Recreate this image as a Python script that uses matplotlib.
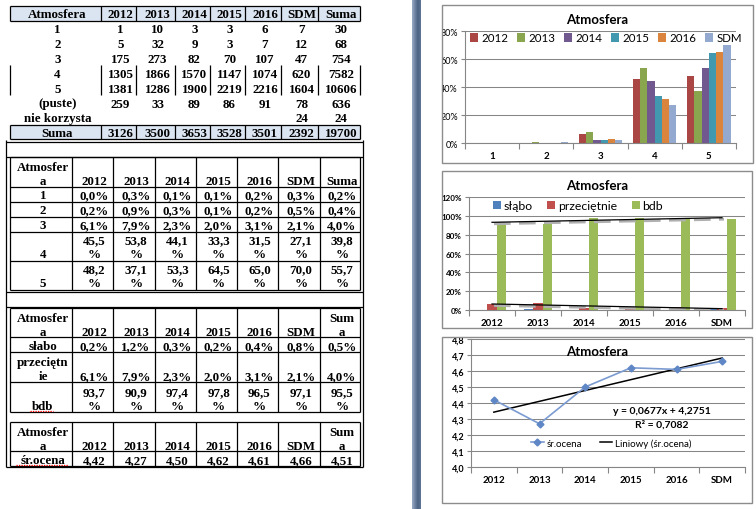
import numpy as np
import matplotlib
matplotlib.use('Agg')
import matplotlib.pyplot as plt
from matplotlib.colors import LinearSegmentedColormap
from matplotlib.patches import Rectangle
from matplotlib.transforms import offset_copy

plt.rcParams['font.family'] = ['Lato', 'DejaVu Sans']

years = ['2012', '2013', '2014', '2015', '2016', 'SDM']
cols = years + ['Suma']
grades = ['1', '2', '3', '4', '5']

# table 1 - counts (columns: 2012..2016, SDM, Suma)
cnt_1 = [1, 10, 3, 3, 6, 7, 30]
cnt_2 = [5, 32, 9, 3, 7, 12, 68]
cnt_3 = [175, 273, 82, 70, 107, 47, 754]
cnt_4 = [1305, 1866, 1570, 1147, 1074, 620, 7582]
cnt_5 = [1381, 1286, 1900, 2219, 2216, 1604, 10606]
cnt_empty = [259, 33, 89, 86, 91, 78, 636]
cnt_none = [None, None, None, None, None, 24, 24]
cnt_sum = [3126, 3500, 3653, 3528, 3501, 2392, 19700]

# table 2 - share of each grade
pct_1 = [0.0, 0.3, 0.1, 0.1, 0.2, 0.3, 0.2]
pct_2 = [0.2, 0.9, 0.3, 0.1, 0.2, 0.5, 0.4]
pct_3 = [6.1, 7.9, 2.3, 2.0, 3.1, 2.1, 4.0]
pct_4 = [45.5, 53.8, 44.1, 33.3, 31.5, 27.1, 39.8]
pct_5 = [48.2, 37.1, 53.3, 64.5, 65.0, 70.0, 55.7]

# table 3
slabo = [0.2, 1.2, 0.3, 0.2, 0.4, 0.8, 0.5]
przec = [6.1, 7.9, 2.3, 2.0, 3.1, 2.1, 4.0]
bdb = [93.7, 90.9, 97.4, 97.8, 96.5, 97.1, 95.5]

# table 4
avg = [4.42, 4.27, 4.50, 4.62, 4.61, 4.66, 4.51]
trend = [0.0677, 4.2751]
r2 = 0.7082

year_colors = ['#AA4643', '#89A54E', '#71588F', '#4198AF', '#DB843D', '#93A9CF']
group_colors = ['#4F81BD', '#C0504D', '#9BBB59']

W, H = 756, 510
fig = plt.figure(figsize=(W / 100, H / 100), dpi=100)


def rect(x0, y0, x1, y1):
    return [x0 / W, 1 - y1 / H, (x1 - x0) / W, (y1 - y0) / H]


def fxy(x, y):
    return x / W, 1 - y / H


def pfmt(v):
    return f'{v:.1f}'.replace('.', ',') + '%'


bg = fig.add_axes([0, 0, 1, 1], zorder=0)
bg.set_xlim(0, W)
bg.set_ylim(H, 0)
bg.axis('off')


def txt(x, y, s, size=9.4):
    bg.text(x, y + 4, s, ha='center', va='baseline', fontsize=size,
            fontweight='bold', family='Liberation Serif', color='black')


def hl(y, x0, x1, lw=0.9):
    bg.plot([x0, x1], [y, y], color='black', lw=lw, solid_capstyle='butt')


def vl(x, y0, y1, lw=0.9):
    bg.plot([x, x], [y0, y1], color='black', lw=lw, solid_capstyle='butt')


# ---- table 1
e1 = [10, 101, 136, 175, 210, 245, 281, 318, 360]
c1 = [(a + b) / 2 + 2 for a, b in zip(e1[:-1], e1[1:])]
bg.add_patch(Rectangle((10, 6.5), 350, 15, facecolor='#dbe5f1', edgecolor='none'))
bg.add_patch(Rectangle((10, 126), 350, 14, facecolor='#dbe5f1', edgecolor='none'))
for y in [6.5, 21.5, 126, 140]:
    hl(y, 10, 360)
for x in e1:
    vl(x, 6.5, 21.5)
    vl(x, 126, 140)
    vl(x, 65.5, 95.5)
txt(c1[0], 14, 'Atmosfera')
for c, s in zip(c1[1:], cols):
    txt(c, 14, s)
t1_labels = ['1', '2', '3', '4', '5', '(puste)', 'nie korzysta', 'Suma']
t1_data = [cnt_1, cnt_2, cnt_3, cnt_4, cnt_5, cnt_empty, cnt_none, cnt_sum]
for i, (lab, row) in enumerate(zip(t1_labels, t1_data)):
    y = 29 + i * 14.9
    txt(c1[0], y, lab)
    for c, v in zip(c1[1:], row):
        if v is not None:
            txt(c, y, str(v))

# ---- outer frame of the lower tables
for y in [143, 158, 293, 308, 468]:
    hl(y, 6, 363)
vl(6, 141, 468)
vl(363, 141, 468)

e2 = [10, 72, 113, 155, 196, 237, 278, 320, 360]
c2 = [(a + b) / 2 + 2 for a, b in zip(e2[:-1], e2[1:])]

# ---- table 2
for y in [158, 188, 203, 218, 233, 262, 291]:
    hl(y, 10, 360)
for x in e2:
    vl(x, 158, 291)
txt(c2[0], 167, 'Atmosfer')
txt(c2[0], 181, 'a')
for c, s in zip(c2[1:], cols):
    txt(c, 181, s)
for lab, row, y in zip(grades[:3], [pct_1, pct_2, pct_3], [195, 210, 225]):
    txt(c2[0], y, lab)
    for c, v in zip(c2[1:], row):
        txt(c, y, pfmt(v))
for lab, row, y in zip(grades[3:], [pct_4, pct_5], [240, 269]):
    txt(c2[0], y + 14, lab)
    for c, v in zip(c2[1:], row):
        txt(c, y, f'{v:.1f}'.replace('.', ','))
        txt(c, y + 14, '%')

# ---- table 3
for y in [309, 338, 353, 383, 413]:
    hl(y, 10, 360)
for x in e2:
    vl(x, 309, 413)
txt(c2[0], 318, 'Atmosfer')
txt(c2[0], 332, 'a')
for c, s in zip(c2[1:-1], years):
    txt(c, 332, s)
txt(c2[-1], 318, 'Sum')
txt(c2[-1], 332, 'a')
txt(c2[0], 346, 'słabo')
for c, v in zip(c2[1:], slabo):
    txt(c, 346, pfmt(v))
txt(c2[0], 362, 'przeciętn')
txt(c2[0], 376, 'ie')
for c, v in zip(c2[1:], przec):
    txt(c, 376, pfmt(v))
txt(c2[0], 406, 'bdb')
bg.plot([30, 53], [411.5, 411.5], color='red', lw=0.9, ls=(0, (1, 1)))
for c, v in zip(c2[1:], bdb):
    txt(c, 392, f'{v:.1f}'.replace('.', ','))
    txt(c, 406, '%')

# ---- table 4
for y in [423, 452, 467]:
    hl(y, 10, 360)
for x in e2:
    vl(x, 423, 467)
txt(c2[0], 432, 'Atmosfer')
txt(c2[0], 446, 'a')
for c, s in zip(c2[1:-1], years):
    txt(c, 446, s)
txt(c2[-1], 432, 'Sum')
txt(c2[-1], 446, 'a')
txt(c2[0], 460, 'śr.ocena')
bg.plot([16, 68], [465.5, 465.5], color='red', lw=0.9, ls=(0, (1, 1)))
for c, v in zip(c2[1:], avg):
    txt(c, 460, f'{v:.2f}'.replace('.', ','))


# ---- charts
def excel_axes(ax, n):
    for s in ['top', 'right']:
        ax.spines[s].set_visible(False)
    for s in ['left', 'bottom']:
        ax.spines[s].set_color('#868686')
        ax.spines[s].set_linewidth(0.8)
    ax.yaxis.grid(True, color='#868686', lw=0.75)
    ax.set_axisbelow(True)
    ax.set_xlim(-0.5, n - 0.5)
    ax.set_xticks(range(n))
    ax.set_xticks(np.arange(-0.5, n), minor=True)
    ax.tick_params(axis='x', which='minor', length=4, color='#868686', width=0.8)
    ax.tick_params(axis='y', length=3, color='#868686', width=0.8, pad=2)
    ax.patch.set_alpha(0)


# chart 1
ax1 = fig.add_axes(rect(465, 32, 736, 144), zorder=1)
excel_axes(ax1, 5)
x = np.arange(5)
bw = 1 / 7.5
for i, (yr, col) in enumerate(zip(years, year_colors)):
    vals = [p[i] for p in (pct_1, pct_2, pct_3, pct_4, pct_5)]
    ax1.bar(x + (i - 2.5) * bw, vals, bw, color=col, label=yr)
ax1.set_ylim(0, 80)
ax1.set_yticks(range(0, 81, 20))
ax1.set_yticklabels([f'{v}%' for v in range(0, 81, 20)], fontsize=6.5)
ax1.set_xticklabels(grades, fontsize=7, fontweight='bold')
ax1.tick_params(axis='x', which='major', length=0, pad=5.5)
ax1.legend(ncol=6, frameon=False, loc='center left', fontsize=8.3,
           bbox_to_anchor=fxy(470, 39), bbox_transform=fig.transFigure,
           borderpad=0, borderaxespad=0, handlelength=0.7, handleheight=0.7,
           handletextpad=0.26, columnspacing=0.78)
fig.text(*fxy(597, 20), 'Atmosfera', ha='center', va='center',
         fontsize=9.5, fontweight='bold')

# chart 2
ax2 = fig.add_axes(rect(469, 198, 745, 311), zorder=1)
excel_axes(ax2, 6)
x = np.arange(6)
bw2 = 1 / 4.84
for i, (name, vals, col) in enumerate(zip(['słąbo', 'przeciętnie', 'bdb'],
                                           [slabo, przec, bdb], group_colors)):
    ax2.bar(x + (i - 1) * bw2, vals[:6], bw2, color=col, label=name)
shadow = offset_copy(ax2.transData, fig=fig, x=2, y=-1.5, units='dots')
for vals in (przec, bdb):
    k, b = np.polyfit(np.arange(1, 7), vals[:6], 1)
    ty = k * np.arange(1, 7) + b
    ax2.plot(x, ty, color='#b0b0b0', lw=2, ls=(0, (6, 3)), transform=shadow, zorder=3)
    ax2.plot(x, ty, color='black', lw=0.9, zorder=4)
ax2.set_ylim(0, 120)
ax2.set_yticks(range(0, 121, 20))
ax2.set_yticklabels([f'{v}%' for v in range(0, 121, 20)], fontsize=5.8, fontweight='bold')
ax2.set_xticklabels(years, fontsize=7, fontweight='bold')
ax2.tick_params(axis='x', which='major', length=0, pad=6)
ax2.legend(ncol=3, frameon=False, loc='center left', fontsize=8.8,
           bbox_to_anchor=fxy(493, 207), bbox_transform=fig.transFigure,
           borderpad=0, borderaxespad=0, handlelength=0.65, handleheight=0.65,
           handletextpad=0.22, columnspacing=1.2)
fig.text(*fxy(597, 186), 'Atmosfera', ha='center', va='center',
         fontsize=9.5, fontweight='bold')

# chart 3
ax3 = fig.add_axes(rect(471, 340, 745, 468), zorder=1)
excel_axes(ax3, 6)
ax3.plot(x, avg[:6], color='#7b9bd1', lw=1.2, marker='D', ms=3.5,
         mfc='#5f87c6', mec='#5f87c6', label='śr.ocena', zorder=3)
xs = np.arange(1, 7)
ax3.plot(x, trend[0] * xs + trend[1], color='black', lw=1.1,
         label='Liniowy (śr.ocena)', zorder=2)
ax3.set_ylim(4.0, 4.8)
yt = np.arange(4.0, 4.81, 0.1)
ax3.set_yticks(yt)
ax3.set_yticklabels([f'{v:.1f}'.replace('.', ',') for v in yt], fontsize=6.5, fontweight='bold')
ax3.set_xticklabels(years, fontsize=7, fontweight='bold')
ax3.tick_params(axis='x', which='major', length=0, pad=5.5)
ax3.legend(ncol=2, frameon=False, loc='center left', fontsize=7,
           bbox_to_anchor=fxy(531, 444), bbox_transform=fig.transFigure,
           borderpad=0, borderaxespad=0, handlelength=1.3,
           handletextpad=0.3, columnspacing=1.8)
fig.text(*fxy(597, 352), 'Atmosfera', ha='center', va='center',
         fontsize=9.5, fontweight='bold')
eq = 'y = ' + f'{trend[0]:.4f}'.replace('.', ',') + 'x + ' + f'{trend[1]:.4f}'.replace('.', ',')
fig.text(*fxy(662, 412), eq, ha='center', va='center', fontsize=7.5, fontweight='bold')
fig.text(*fxy(662, 425), 'R² = ' + f'{r2:.4f}'.replace('.', ','), ha='center',
         va='center', fontsize=7.5, fontweight='bold')

# ---- overlay: page gap, chart frames
ov = fig.add_axes([0, 0, 1, 1], zorder=5)
ov.set_xlim(0, W)
ov.set_ylim(H, 0)
ov.axis('off')
ov.patch.set_alpha(0)
ov.add_patch(Rectangle((421, 0), 20.5, H, facecolor='white', edgecolor='none'))
strip = LinearSegmentedColormap.from_list('strip', ['#9aabc4', '#6f84a3', '#4d6384', '#5f7595'])
ov.imshow(np.linspace(0, 1, 50)[None, :], cmap=strip, extent=(412, 421, H, 0), aspect='auto')
ov.set_xlim(0, W)
ov.set_ylim(H, 0)
for (x0, y0, x1, y1) in [(442, 6, 753, 164), (442, 172, 752, 329), (442, 338, 752, 504)]:
    ov.add_patch(Rectangle((x0, y0), x1 - x0, y1 - y0, facecolor='none',
                           edgecolor='#8c8c8c', lw=1))

fig.savefig('out.png', dpi=100)
